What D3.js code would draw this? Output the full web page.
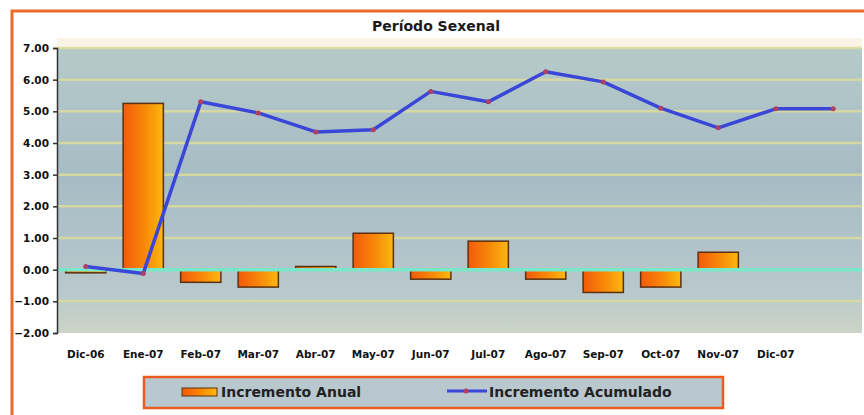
<!DOCTYPE html>
<html>
<head>
<meta charset="utf-8">
<script src="https://cdn.jsdelivr.net/npm/d3@7"></script>
<style>
  body { margin: 0; background: #fff; }
  text { font-family: "DejaVu Sans", Verdana, sans-serif; }
</style>
</head>
<body>
<div id="chart"></div>
<script>
// Periodo Sexenal chart
var months = ["Dic-06", "Ene-07", "Feb-07", "Mar-07", "Abr-07", "May-07", "Jun-07",
              "Jul-07", "Ago-07", "Sep-07", "Oct-07", "Nov-07", "Dic-07", ""];
var anual = [-0.10, 5.25, -0.40, -0.55, 0.10, 1.15, -0.30, 0.90, -0.30, -0.72, -0.55, 0.55, 0, 0];
var acumulado = [0.10, -0.12, 5.30, 4.95, 4.35, 4.42, 5.63, 5.30, 6.25, 5.93, 5.10, 4.48, 5.08, 5.08];
var yTicks = [7, 6, 5, 4, 3, 2, 1, 0, -1, -2];

var svgWidth = 864;
var svgHeight = 415;

var margin = { top: 48, right: 2, bottom: 82, left: 57 };
var width = svgWidth - margin.left - margin.right;
var height = svgHeight - margin.top - margin.bottom;

var svg = d3.select("#chart")
  .append("svg")
  .attr("width", svgWidth)
  .attr("height", svgHeight);

var defs = svg.append("defs");

// plot background gradient
var bg = defs.append("linearGradient").attr("id", "bgGrad")
  .attr("x1", 0).attr("y1", 0).attr("x2", 0).attr("y2", 1);
bg.append("stop").attr("offset", "0%").attr("stop-color", "#b6caca");
bg.append("stop").attr("offset", "45%").attr("stop-color", "#a6bcc4");
bg.append("stop").attr("offset", "85%").attr("stop-color", "#b8c8cc");
bg.append("stop").attr("offset", "100%").attr("stop-color", "#ccd4c6");

var barGrad = defs.append("linearGradient").attr("id", "barGrad")
  .attr("x1", 0).attr("y1", 0).attr("x2", 1).attr("y2", 0);
barGrad.append("stop").attr("offset", "0%").attr("stop-color", "#f25a0c");
barGrad.append("stop").attr("offset", "55%").attr("stop-color", "#f88a08");
barGrad.append("stop").attr("offset", "100%").attr("stop-color", "#fbb810");

// outer orange frame
svg.append("rect")
  .attr("x", 12).attr("y", 11)
  .attr("width", 870).attr("height", 420)
  .attr("fill", "#fff")
  .attr("stroke", "#ee6a2c")
  .attr("stroke-width", 3);

// cream band above plot
svg.append("rect")
  .attr("x", margin.left).attr("y", margin.top - 10)
  .attr("width", width).attr("height", 10)
  .attr("fill", "#faf4e4");

svg.append("text")
  .attr("x", 436).attr("y", 31)
  .attr("text-anchor", "middle")
  .attr("font-size", 14)
  .attr("font-weight", "bold")
  .attr("fill", "#1a1a1a")
  .text("Período Sexenal");

var chartGroup = svg.append("g")
  .attr("transform", `translate(${margin.left}, ${margin.top})`);

var xScale = d3.scaleBand()
  .domain(months.map((d, i) => i))
  .range([0, width])
  .paddingInner(0.3)
  .paddingOuter(0.15);

var yScale = d3.scaleLinear()
  .domain([-2, 7])
  .range([height, 0]);

chartGroup.append("rect")
  .attr("width", width).attr("height", height)
  .attr("fill", "url(#bgGrad)");

// grid lines
chartGroup.selectAll(".grid")
  .data(yTicks.filter(d => d !== 0 && d !== -2))
  .enter()
  .append("line")
  .attr("x1", 0).attr("x2", width)
  .attr("y1", d => yScale(d)).attr("y2", d => yScale(d))
  .attr("stroke", "#dcdc9c")
  .attr("stroke-width", 2.5)
  .attr("opacity", 0.85);

// bars
chartGroup.selectAll(".bar")
  .data(anual.map((v, i) => ({ i: i, v: v })).filter(d => d.v !== 0))
  .enter()
  .append("rect")
  .attr("x", d => xScale(d.i))
  .attr("width", xScale.bandwidth())
  .attr("y", d => yScale(Math.max(0, d.v)))
  .attr("height", d => Math.abs(yScale(d.v) - yScale(0)))
  .attr("fill", "url(#barGrad)")
  .attr("stroke", "#5a3010")
  .attr("stroke-width", 1.5);

// zero line
chartGroup.append("line")
  .attr("x1", 0).attr("x2", width)
  .attr("y1", yScale(0)).attr("y2", yScale(0))
  .attr("stroke", "#78e8c8")
  .attr("stroke-width", 3.5);

// accumulated line
var cx = i => xScale(i) + xScale.bandwidth() / 2;
var line = d3.line()
  .x((d, i) => cx(i))
  .y(d => yScale(d));

chartGroup.append("path")
  .datum(acumulado)
  .attr("d", line)
  .attr("fill", "none")
  .attr("stroke", "#3a46d8")
  .attr("stroke-width", 3.5)
  .attr("stroke-linejoin", "round");

chartGroup.selectAll(".pt")
  .data(acumulado)
  .enter()
  .append("circle")
  .attr("cx", (d, i) => cx(i))
  .attr("cy", d => yScale(d))
  .attr("r", 2.5)
  .attr("fill", "#b04060");

// axes
var leftAxis = d3.axisLeft(yScale)
  .tickValues(yTicks)
  .tickFormat(d3.format(".2f"))
  .tickSize(4);

var yAxis = chartGroup.append("g").call(leftAxis);
yAxis.select(".domain").attr("stroke", "#333").attr("stroke-width", 1.5);
yAxis.selectAll("line").attr("stroke", "#333").attr("stroke-width", 1.5);
yAxis.selectAll("text")
  .attr("font-size", 10.5)
  .attr("font-weight", "bold")
  .attr("fill", "#111")
  .attr("x", -8);

var bottomAxis = d3.axisBottom(xScale)
  .tickFormat(i => months[i])
  .tickSize(0);

var xAxis = chartGroup.append("g")
  .attr("transform", `translate(0, ${height})`)
  .call(bottomAxis);
xAxis.select(".domain").remove();
xAxis.selectAll("text")
  .attr("y", 18)
  .attr("font-size", 10.5)
  .attr("font-weight", "bold")
  .attr("fill", "#111");

// legend
var legend = svg.append("g");
legend.append("rect")
  .attr("x", 144).attr("y", 377)
  .attr("width", 579).attr("height", 31)
  .attr("fill", "#b9c7cf")
  .attr("stroke", "#ee5a1c")
  .attr("stroke-width", 2.5);

legend.append("rect")
  .attr("x", 182).attr("y", 388)
  .attr("width", 35).attr("height", 8)
  .attr("fill", "url(#barGrad)")
  .attr("stroke", "#5a3010")
  .attr("stroke-width", 1);

legend.append("text")
  .attr("x", 221).attr("y", 397)
  .attr("font-size", 14)
  .attr("font-weight", "bold")
  .attr("fill", "#222")
  .text("Incremento Anual");

legend.append("line")
  .attr("x1", 447).attr("x2", 487)
  .attr("y1", 391).attr("y2", 391)
  .attr("stroke", "#3a46d8")
  .attr("stroke-width", 3);

legend.append("circle")
  .attr("cx", 466).attr("cy", 391)
  .attr("r", 2.5)
  .attr("fill", "#b04060");

legend.append("text")
  .attr("x", 489).attr("y", 397)
  .attr("font-size", 14)
  .attr("font-weight", "bold")
  .attr("fill", "#222")
  .text("Incremento Acumulado");
</script>
</body>
</html>
